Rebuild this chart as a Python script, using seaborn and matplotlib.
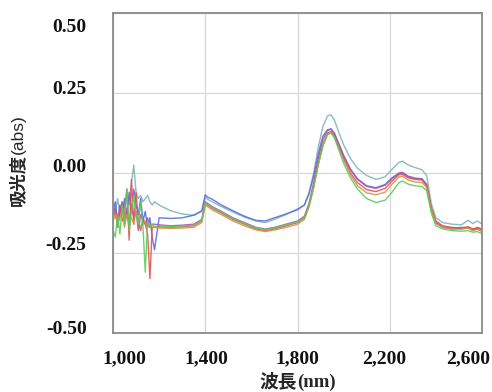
import numpy as np
import pandas as pd
import matplotlib
matplotlib.use("Agg")
import matplotlib.pyplot as plt
from matplotlib.transforms import ScaledTranslation
import seaborn as sns

# ---------------- data ----------------
wavelength = [
    1000, 1010, 1020, 1030, 1040, 1050, 1060, 1070, 1080, 1090,
    1100, 1110, 1120, 1130, 1140, 1150, 1160, 1170, 1180,
    1200, 1250, 1300, 1350, 1385, 1400, 1410, 1430, 1470, 1520,
    1570, 1620, 1660, 1700, 1750, 1800, 1830, 1850, 1870, 1890,
    1910, 1930, 1945, 1960, 1980, 2000, 2030, 2060, 2100, 2140,
    2180, 2210, 2240, 2255, 2280, 2310, 2340, 2360, 2380, 2400,
    2430, 2470, 2510, 2540, 2560, 2580, 2600,
]

teal = [
    -0.10, -0.12, -0.08, -0.13, -0.09, -0.11, -0.06, -0.10, -0.03, 0.025,
    -0.06, -0.08, -0.07, -0.09, -0.08, -0.07, -0.09, -0.10, -0.09,
    -0.100, -0.118, -0.128, -0.132, -0.120, -0.075, -0.082, -0.090, -0.105, -0.122,
    -0.138, -0.150, -0.155, -0.145, -0.130, -0.112, -0.100, -0.060, 0.000, 0.080,
    0.145, 0.178, 0.182, 0.165, 0.125, 0.088, 0.045, 0.015, -0.008, -0.020,
    -0.012, 0.012, 0.033, 0.037, 0.025, 0.017, 0.010, -0.008, -0.095, -0.140,
    -0.155, -0.160, -0.162, -0.148, -0.158, -0.150, -0.160,
]
blue = [
    -0.12, -0.09, -0.15, -0.10, -0.13, -0.08, -0.14, -0.06, -0.12, -0.05,
    -0.10, -0.13, -0.08, -0.15, -0.12, -0.17, -0.14, -0.20, -0.24,
    -0.140, -0.142, -0.140, -0.132, -0.118, -0.068, -0.075, -0.082, -0.100, -0.118,
    -0.135, -0.148, -0.150, -0.140, -0.128, -0.115, -0.100, -0.065, -0.010, 0.060,
    0.115, 0.135, 0.138, 0.125, 0.090, 0.055, 0.012, -0.018, -0.040, -0.046,
    -0.036, -0.015, 0.000, 0.002, -0.010, -0.016, -0.018, -0.035, -0.110, -0.155,
    -0.170, -0.175, -0.172, -0.170, -0.178, -0.175, -0.182,
]
purple = [
    -0.13, -0.11, -0.16, -0.12, -0.09, -0.15, -0.11, -0.17, -0.10, -0.14,
    -0.12, -0.18, -0.13, -0.15, -0.16, -0.14, -0.17, -0.16, -0.16,
    -0.162, -0.165, -0.163, -0.160, -0.145, -0.090, -0.095, -0.105, -0.120, -0.140,
    -0.155, -0.170, -0.175, -0.170, -0.160, -0.150, -0.135, -0.095, -0.030, 0.045,
    0.105, 0.133, 0.137, 0.122, 0.088, 0.052, 0.010, -0.020, -0.042, -0.048,
    -0.038, -0.018, -0.002, 0.000, -0.012, -0.018, -0.020, -0.038, -0.112, -0.155,
    -0.168, -0.172, -0.170, -0.172, -0.176, -0.170, -0.175,
]
red = [
    -0.14, -0.12, -0.17, -0.11, -0.15, -0.13, -0.05, -0.21, -0.02, -0.16,
    -0.06, -0.15, -0.18, -0.14, -0.16, -0.19, -0.33, -0.17, -0.168,
    -0.168, -0.170, -0.168, -0.165, -0.150, -0.095, -0.100, -0.110, -0.125, -0.145,
    -0.160, -0.175, -0.180, -0.175, -0.165, -0.155, -0.140, -0.100, -0.040, 0.030,
    0.090, 0.125, 0.130, 0.115, 0.080, 0.045, 0.000, -0.030, -0.052, -0.058,
    -0.048, -0.025, -0.005, -0.004, -0.015, -0.020, -0.022, -0.040, -0.110, -0.150,
    -0.165, -0.170, -0.172, -0.168, -0.175, -0.172, -0.178,
]
orange = [
    -0.15, -0.13, -0.16, -0.14, -0.12, -0.17, -0.13, -0.15, -0.14, -0.16,
    -0.12, -0.15, -0.17, -0.16, -0.15, -0.17, -0.16, -0.17, -0.17,
    -0.172, -0.173, -0.172, -0.170, -0.155, -0.100, -0.105, -0.115, -0.130, -0.150,
    -0.165, -0.178, -0.183, -0.178, -0.170, -0.160, -0.145, -0.105, -0.045, 0.025,
    0.085, 0.120, 0.126, 0.112, 0.076, 0.040, -0.005, -0.040, -0.062, -0.068,
    -0.060, -0.035, -0.012, -0.010, -0.022, -0.028, -0.030, -0.045, -0.115, -0.158,
    -0.170, -0.175, -0.176, -0.172, -0.180, -0.176, -0.182,
]
green = [
    -0.18, -0.20, -0.13, -0.19, -0.10, -0.16, -0.05, -0.18, -0.12, -0.07,
    -0.13, -0.16, -0.09, -0.17, -0.31, -0.15, -0.17, -0.16, -0.168,
    -0.165, -0.168, -0.166, -0.163, -0.148, -0.093, -0.098, -0.108, -0.122, -0.142,
    -0.158, -0.172, -0.177, -0.172, -0.162, -0.153, -0.140, -0.105, -0.045, 0.025,
    0.085, 0.120, 0.125, 0.110, 0.070, 0.030, -0.015, -0.050, -0.080, -0.092,
    -0.085, -0.060, -0.030, -0.025, -0.035, -0.040, -0.042, -0.055, -0.125, -0.165,
    -0.175, -0.180, -0.182, -0.180, -0.185, -0.183, -0.190,
]

series_names = ["teal", "blue", "purple", "red", "orange", "green"]
series_values = [teal, blue, purple, red, orange, green]
series_colors = ["#7fb5b5", "#5a6be0", "#a855b0", "#e65050", "#d9904a", "#5ccc5c"]

x_ticks = [1000, 1400, 1800, 2200, 2600]
x_ticklabels = ["1,000", "1,400", "1,800", "2,200", "2,600"]
y_ticks = [-0.50, -0.25, 0.00, 0.25, 0.50]
y_ticklabels = ["-0.50", "-0.25", "0.00", "0.25", "0.50"]

# ---------------- build table ----------------
frames = []
for name, vals in zip(series_names, series_values):
    assert len(vals) == len(wavelength), name
    frames.append(pd.DataFrame({"wl": wavelength, "abs": vals, "series": name}))
df = pd.concat(frames, ignore_index=True)

# ---------------- figure ----------------
sns.set_style("white")
fig = plt.figure(figsize=(4.92, 3.92), dpi=100)
ax = fig.add_axes([113 / 492, 1 - 333 / 392, 369 / 492, 320 / 392])

sns.lineplot(data=df, x="wl", y="abs", hue="series", hue_order=series_names,
             palette=dict(zip(series_names, series_colors)), estimator=None,
             sort=False, linewidth=1.0, alpha=0.9, legend=False, ax=ax)

ax.set_xlim(1000, 2600)
ax.set_ylim(-0.5, 0.5)
ax.set_xticks(x_ticks)
ax.set_yticks(y_ticks)
ax.set_xticklabels(x_ticklabels)
ax.set_yticklabels(y_ticklabels)
ax.grid(True, color="#d8d8d8", linewidth=0.9)
ax.set_axisbelow(True)
for s in ax.spines.values():
    s.set_color("#8a8a8a")
    s.set_linewidth(1.3)
ax.set_xlabel("")
ax.set_ylabel("")

for lab in ax.get_xticklabels() + ax.get_yticklabels():
    lab.set_fontfamily("Liberation Serif")
    lab.set_fontweight("bold")
    lab.set_fontsize(14)
    lab.set_color("#111111")
ax.tick_params(axis="x", length=0, pad=12.5)
ax.tick_params(axis="y", length=3, color="#cccccc", pad=16)

# label placement as in the reference (pixels)
for lab, dy in zip(ax.get_yticklabels(), [6, 9, 8, 6, -13]):
    lab.set_transform(lab.get_transform() + ScaledTranslation(0, dy / 100, fig.dpi_scale_trans))
for lab, dx in zip(ax.get_xticklabels(), [11, 1, 0, -6, -13.5]):
    lab.set_transform(lab.get_transform() + ScaledTranslation(dx / 100, 0, fig.dpi_scale_trans))

# axis titles
t1 = fig.text(297 / 492, 1 - 382 / 392, "波長", family="Noto Sans CJK JP",
              weight="bold", size=13.5, ha="right", va="center")
ax.annotate("(nm)", xy=(1, 0.5), xycoords=t1, ha="left", va="center",
            family="Liberation Serif", weight="bold", size=13.5, annotation_clip=False)

t2 = fig.text(18 / 492, 1 - 180 / 392, "吸光度", family="Noto Sans CJK JP",
              weight="bold", size=12.5, rotation=90, ha="center", va="center")
ax.annotate("(abs)", xy=(0.5, 1), xycoords=t2, ha="center", va="bottom",
            family="Liberation Sans", size=12.5, rotation=90, annotation_clip=False)

fig.savefig("out.png", dpi=100)
